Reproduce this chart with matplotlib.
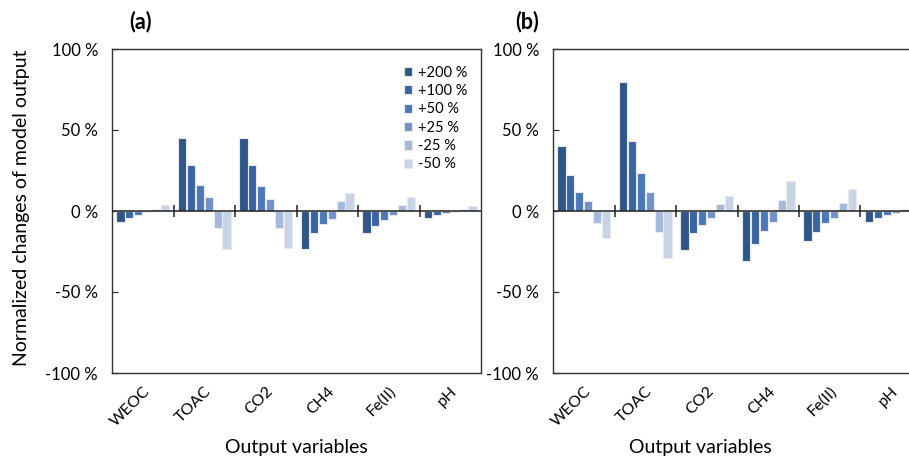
import numpy as np
import matplotlib.pyplot as plt

plt.rcParams['font.family'] = ['Lato', 'DejaVu Sans']

variables = ['WEOC', 'TOAC', 'CO2', 'CH4', 'Fe(II)', 'pH']
scenarios = ['+200 %', '+100 %', '+50 %', '+25 %', '-25 %', '-50 %']
colors = ['#2f5689', '#3a65a3', '#4a78ba', '#7092c8', '#a6b9dc', '#c8d3e8']

# normalized change (%) of each output, one row per variable, columns follow scenarios
changes_a = [
    [-7.0, -4.5, -2.5, -0.8, 1.0, 4.0],
    [45.0, 28.3, 16.2, 8.7, -10.5, -23.3],
    [45.0, 28.3, 15.6, 7.7, -10.5, -22.9],
    [-23.3, -13.6, -8.1, -4.7, 5.9, 11.3],
    [-13.8, -9.1, -5.5, -2.6, 4.0, 8.7],
    [-4.5, -2.4, -1.4, -0.6, 1.0, 3.0],
]
changes_b = [
    [40.3, 22.4, 11.7, 6.0, -7.6, -16.7],
    [79.4, 43.4, 23.3, 11.7, -13.0, -29.2],
    [-23.9, -13.8, -8.4, -4.5, 4.1, 9.0],
    [-30.7, -20.6, -12.1, -6.6, 7.0, 18.5],
    [-18.7, -12.8, -7.4, -4.5, 5.1, 13.8],
    [-7.0, -4.3, -2.3, -1.4, 1.0, 4.3],
]

W, H = 909, 462
fig = plt.figure(figsize=(W / 100, H / 100), dpi=100)


def draw_panel(ax, data, legend=False):
    data = np.array(data)
    n = len(variables)
    centers = np.arange(n) + 0.5
    pitch = 0.145
    offsets = (np.arange(len(scenarios)) - 2.5) * pitch
    for j, lab in enumerate(scenarios):
        ax.bar(centers + offsets[j], data[:, j], width=pitch * 0.92,
               color=colors[j], edgecolor='#e9e9e9', linewidth=0.8,
               label=lab, zorder=3)

    ax.set_xlim(0, n)
    ax.set_ylim(-100, 100)
    ax.set_yticks([-100, -50, 0, 50, 100])
    ax.set_yticklabels(['-100 %', '-50 %', '0 %', '50 %', '100 %'])
    ax.tick_params(axis='y', direction='in', length=4, width=0.9,
                   pad=10, labelsize=12, color='#333333')
    ax.set_xticks(centers)
    ax.set_xticklabels(variables, rotation=45, ha='right',
                       rotation_mode='anchor', fontsize=11.5)
    ax.tick_params(axis='x', length=0, pad=8)
    for s in ax.spines.values():
        s.set_color('#333333')
        s.set_linewidth(1.0)

    # zero line with separators between the variable groups
    ax.axhline(0, color='#222222', linewidth=1.1, zorder=4)
    ax.vlines(np.arange(1, n), -3.6, 3.6, color='#222222', linewidth=1.1,
              zorder=4)

    if legend:
        ax.legend(loc='upper right', frameon=False, fontsize=10.5,
                  handlelength=0.6, handleheight=0.6, handletextpad=0.4,
                  labelspacing=0.3, borderaxespad=0.4,
                  bbox_to_anchor=(0.995, 0.985))


top = (H - 49) / H
bottom = (H - 373) / H
ax_a = fig.add_axes([112 / W, bottom, 369 / W, top - bottom])
ax_b = fig.add_axes([553 / W, bottom, 369 / W, top - bottom])
draw_panel(ax_a, changes_a, legend=True)
draw_panel(ax_b, changes_b)

fig.text(141 / W, 1 - 22 / H, '(a)', fontsize=15.5, fontweight='bold',
         ha='center', va='center')
fig.text(527 / W, 1 - 22 / H, '(b)', fontsize=15.5, fontweight='bold',
         ha='center', va='center')
fig.text(22 / W, 1 - 208 / H, 'Normalized changes of model output',
         rotation=90, fontsize=14, ha='center', va='center')
fig.text(296 / W, 1 - 447 / H, 'Output variables', fontsize=14,
         ha='center', va='center')
fig.text(700 / W, 1 - 447 / H, 'Output variables', fontsize=14,
         ha='center', va='center')

fig.savefig('out.png', dpi=100)
